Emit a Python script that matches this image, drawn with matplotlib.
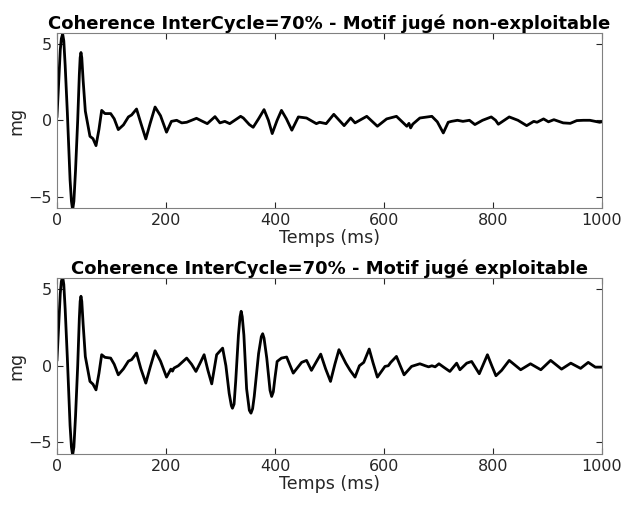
import matplotlib.pyplot as plt

# temps (ms) et amplitude (mg)
t_nonexp = [0, 3, 6, 8, 10.4, 12.5, 15, 19, 24, 26.5, 28.7, 31, 34, 38, 41, 42.5, 44, 45.5, 48, 52,
            60.5, 66, 71.6, 77, 82, 88, 98.5, 105, 112.5, 122, 131, 137, 146, 154, 163, 171, 180, 190,
            201, 210, 219.6, 229, 238, 256, 266, 275.8, 290, 299, 308, 317, 337, 342, 353, 360, 370,
            380, 388, 395, 404, 412, 421, 431, 443, 458, 476, 482, 494, 508, 518, 527, 539, 547, 568.5,
            588, 605, 623, 642, 646, 649, 653, 666, 688, 698, 709, 718, 724, 735, 745, 757, 767, 781,
            797, 805, 810, 830, 846, 862, 875, 881, 893, 902, 912, 929, 942, 954, 966, 978, 996, 1000]
mg_nonexp = [0.26, 2.4, 4.6, 5.35, 5.66, 5.2, 3.6, 0.5, -3.9, -5.3, -5.88, -5.3, -3.3, 0.0, 3.0,
             4.1, 4.44, 4.1, 2.6, 0.6, -1.05, -1.2, -1.66, -0.6, 0.65, 0.44, 0.44, 0.1, -0.61, -0.3,
             0.22, 0.35, 0.74, -0.2, -1.22, -0.2, 0.87, 0.3, -0.78, -0.07, 0.0, -0.17, -0.13, 0.13,
             -0.05, -0.22, 0.24, -0.17, -0.07, -0.22, 0.26, 0.15, -0.28, -0.46, 0.1, 0.70, 0.0, -0.87,
             0.0, 0.65, 0.1, -0.65, 0.22, 0.15, -0.22, -0.13, -0.22, 0.39, 0.0, -0.35, 0.15, -0.17,
             0.26, -0.39, 0.09, 0.26, -0.39, -0.2, -0.5, -0.25, 0.15, 0.26, -0.1, -0.83, -0.13, -0.07,
             0.0, -0.07, 0.0, -0.28, 0.0, 0.22, 0.0, -0.26, 0.22, 0.0, -0.35, -0.07, -0.13, 0.09, -0.1,
             0.04, -0.17, -0.2, -0.02, 0.0, 0.0, -0.13, -0.1]

t_exp = [0, 3, 6, 8, 10.4, 12.5, 15, 19, 24, 26.5, 28.7, 31, 34, 38, 41, 42.5, 44, 45.5, 48, 52,
         60.5, 66, 71.6, 77, 82, 88, 98.5, 105, 112.5, 122, 131, 137, 146, 154, 163, 171, 180, 190,
         201, 209, 212, 214.7, 222.6, 238, 247, 255, 263, 270, 277, 284, 293, 304, 310, 316, 320,
         322, 325, 328, 333, 336, 338, 340, 343, 348, 353, 356, 359, 362, 370, 375, 377.5, 380,
         385, 391, 394, 397, 400, 404, 412, 421.5, 433.6, 449, 458, 467, 475, 484, 493, 502, 510,
         517.5, 530, 538, 547, 555, 563, 573, 580, 588, 602, 608, 612.5, 623, 630, 637, 650.8, 666,
         676, 682, 688, 694, 701, 710, 721, 733.5, 739.5, 752, 761, 775, 790, 798, 805.6, 816, 830,
         851, 869, 888, 906, 926, 943, 961, 975, 988, 1000]
mg_exp = [0.39, 2.5, 4.7, 5.5, 5.8, 5.3, 3.7, 0.5, -3.9, -5.3, -5.82, -5.3, -3.3, 0.0, 3.1, 4.2,
          4.53, 4.2, 2.7, 0.6, -1.02, -1.2, -1.57, -0.5, 0.72, 0.55, 0.5, 0.1, -0.59, -0.2, 0.3,
          0.4, 0.83, -0.2, -1.13, -0.1, 0.98, 0.3, -0.74, -0.22, -0.35, -0.15, 0.0, 0.5, 0.1, -0.37,
          0.2, 0.72, -0.3, -1.18, 0.72, 1.15, 0.0, -1.8, -2.6, -2.77, -2.5, -1.0, 2.0, 3.2, 3.55,
          3.2, 2.0, -1.5, -2.9, -3.09, -2.8, -2.0, 0.8, 1.9, 2.09, 1.8, 0.5, -1.6, -2.0, -1.7, -0.8,
          0.28, 0.5, 0.57, -0.48, 0.22, 0.35, -0.3, 0.2, 0.76, -0.2, -1.02, 0.1, 1.05, 0.17, -0.3,
          -0.74, 0.0, 0.22, 1.09, 0.2, -0.74, -0.04, 0.0, 0.22, 0.61, 0.0, -0.59, -0.04, 0.13, 0.0,
          -0.07, 0.0, -0.07, 0.13, -0.1, -0.37, 0.17, -0.26, 0.17, 0.28, -0.52, 0.72, 0.0, -0.65,
          -0.3, 0.35, -0.26, 0.13, -0.26, 0.35, -0.22, 0.17, -0.17, 0.22, -0.09, -0.09]

titles = ['Coherence InterCycle=70% - Motif jugé non-exploitable',
          'Coherence InterCycle=70% - Motif jugé exploitable']

fig = plt.figure(figsize=(6.27, 5.05), dpi=100)
ax1 = fig.add_axes([0.0909, 0.588, 0.869, 0.3467])
ax2 = fig.add_axes([0.0909, 0.101, 0.869, 0.3485])

for ax, t, v, title in [(ax1, t_nonexp, mg_nonexp, titles[0]), (ax2, t_exp, mg_exp, titles[1])]:
    ax.plot(t, v, color='black', linewidth=2, solid_joinstyle='round')
    ax.set_xlim(0, 1000)
    ax.set_ylim(-5.75, 5.72)
    ax.set_xticks([0, 200, 400, 600, 800, 1000])
    ax.set_yticks([-5, 0, 5])
    ax.tick_params(direction='in', top=True, right=True, labelsize=11.5,
                   colors='#262626', length=4, width=0.8)
    for s in ax.spines.values():
        s.set_color('#808080')
        s.set_linewidth(0.8)
    ax.set_title(title, fontsize=13, fontweight='bold', pad=3)
    ax.set_xlabel('Temps (ms)', fontsize=12.5, color='#262626', labelpad=1)
    ax.set_ylabel('mg', fontsize=12.5, color='#262626', labelpad=2)

fig.savefig('out.png', dpi=100)
